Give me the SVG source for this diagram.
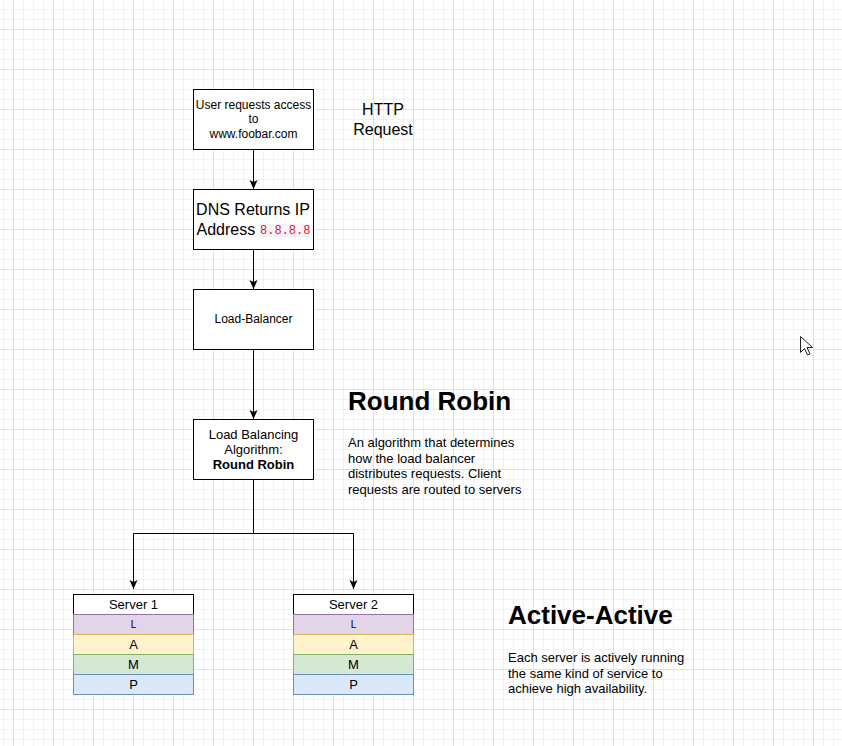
<svg xmlns="http://www.w3.org/2000/svg" width="842" height="746" viewBox="0 0 842 746">
<defs>
<pattern id="grid" width="40" height="40" patternUnits="userSpaceOnUse" x="13" y="29">
<path d="M10.5 0V40M20.5 0V40M30.5 0V40M0 10.5H40M0 20.5H40M0 30.5H40" stroke="#f2f2f2" stroke-width="1" fill="none"/>
<path d="M0.5 0V40M0 0.5H40" stroke="#e0e0e0" stroke-width="1" fill="none"/>
</pattern>
<marker id="arr" markerUnits="userSpaceOnUse" markerWidth="10" markerHeight="10" viewBox="-10 -5 10 10" refX="0" refY="0" orient="auto">
<path d="M0 0L-9 -4L-7 0L-9 4Z" fill="#000"/>
</marker>
</defs>
<style>
.box{fill:#fff;stroke:#000;stroke-width:1}
.t{font-family:"Liberation Sans",Arial,sans-serif;fill:#000}
.c{text-anchor:middle}
.s12{font-size:12px}
.s13{font-size:13px}
.s16{font-size:16px}
.h{font-size:26px;font-weight:bold}
.conn{fill:none;stroke:#000;stroke-width:1;marker-end:url(#arr)}
.L{fill:#e1d5e7;stroke:#9673a6}
.A{fill:#fff2cc;stroke:#d6b656}
.M{fill:#d5e8d4;stroke:#82b366}
.P{fill:#dae8fc;stroke:#6c8ebf}
</style>
<rect width="842" height="746" fill="#fff"/>
<rect width="842" height="746" fill="url(#grid)"/>

<g id="connectors">
<path class="conn" d="M253.5 149.5V189"/>
<path class="conn" d="M253.5 249.5V289"/>
<path class="conn" d="M253.5 349.5V419"/>
<path class="conn" d="M253.5 479.5V533.5H133.5V589"/>
<path class="conn" d="M253.5 533.5H353.5V589"/>
</g>

<g id="user-request">
<rect class="box" x="193.5" y="89.5" width="120" height="60"/>
<text class="t c s12" x="253.5" y="108.5">User requests access</text>
<text class="t c s12" x="253.5" y="123">to</text>
<text class="t c s12" x="253.5" y="137.5">www.foobar.com</text>
</g>

<g id="http-label">
<text class="t c s16" x="383" y="115">HTTP</text>
<text class="t c s16" x="383" y="134.5">Request</text>
</g>

<g id="dns">
<rect class="box" x="193.5" y="189.5" width="120" height="60"/>
<text class="t c s16" x="253" y="214.5">DNS Returns IP</text>
<text class="t s16" x="196.5" y="234.5">Address</text>
<rect x="259.5" y="224" width="50" height="13" fill="#f9f2f4"/>
<text x="260" y="234" font-family="'Liberation Mono','DejaVu Sans Mono',monospace" font-size="12" fill="#c7254e">8.8.8.8</text>
</g>

<g id="load-balancer">
<rect class="box" x="193.5" y="289.5" width="120" height="60"/>
<text class="t c s12" x="253.5" y="323.3">Load-Balancer</text>
</g>

<g id="algorithm">
<rect class="box" x="193.5" y="419.5" width="120" height="60"/>
<text class="t c s13" x="253.5" y="438.5">Load Balancing</text>
<text class="t c s13" x="253.5" y="453.5">Algorithm:</text>
<text class="t c s13" x="253.5" y="468.5" font-weight="bold">Round Robin</text>
</g>

<g id="round-robin-note">
<text class="t h" x="348" y="410">Round Robin</text>
<text class="t s13" x="348" y="447">An algorithm that determines</text>
<text class="t s13" x="348" y="462.5">how the load balancer</text>
<text class="t s13" x="348" y="478">distributes requests. Client</text>
<text class="t s13" x="348" y="493.5">requests are routed to servers</text>
</g>

<g id="server1">
<rect class="box" x="73.5" y="594.5" width="120" height="20"/>
<rect class="L" x="73.5" y="614.5" width="120" height="20"/>
<rect class="A" x="73.5" y="634.5" width="120" height="20"/>
<rect class="M" x="73.5" y="654.5" width="120" height="20"/>
<rect class="P" x="73.5" y="674.5" width="120" height="20"/>
<text class="t c s13" x="133.5" y="609">Server 1</text>
<text class="t c" font-size="10" x="133.5" y="628.2">L</text>
<text class="t c s13" x="133.5" y="648.8">A</text>
<text class="t c s13" x="133.5" y="668.8">M</text>
<text class="t c s13" x="133.5" y="688.6">P</text>
</g>

<g id="server2">
<rect class="box" x="293.5" y="594.5" width="120" height="20"/>
<rect class="L" x="293.5" y="614.5" width="120" height="20"/>
<rect class="A" x="293.5" y="634.5" width="120" height="20"/>
<rect class="M" x="293.5" y="654.5" width="120" height="20"/>
<rect class="P" x="293.5" y="674.5" width="120" height="20"/>
<text class="t c s13" x="353.5" y="609">Server 2</text>
<text class="t c" font-size="10" x="353.5" y="628.2">L</text>
<text class="t c s13" x="353.5" y="648.8">A</text>
<text class="t c s13" x="353.5" y="668.8">M</text>
<text class="t c s13" x="353.5" y="688.6">P</text>
</g>

<g id="active-active-note">
<text class="t h" x="508" y="623.5">Active-Active</text>
<text class="t s13" x="508" y="662">Each server is actively running</text>
<text class="t s13" x="508" y="677.5">the same kind of service to</text>
<text class="t s13" x="508" y="693">achieve high availability.</text>
</g>

<g id="cursor">
<path d="M800.5 336.5V352.5L804.5 348.5L807.5 355L810 354L807 347.5H812.5Z" fill="#fff" stroke="#222" stroke-width="1" stroke-linejoin="round"/>
</g>
</svg>
